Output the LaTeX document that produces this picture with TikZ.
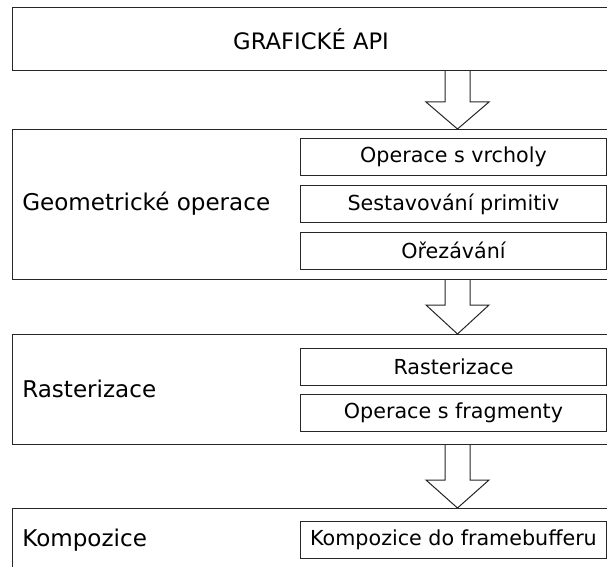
\documentclass[tikz,border=0pt]{standalone}
\usepackage{fontspec}
\setmainfont{DejaVu Sans}
\begin{document}
\begin{tikzpicture}[x=0.75pt,y=-0.75pt,
  outerbox/.style={draw=black!85, line width=0.8pt, rectangle, inner sep=0pt, anchor=north west,
    minimum width=597*0.75pt, font=\fontsize{17}{20}\selectfont},
  innerbox/.style={draw=black!85, line width=0.75pt, rectangle, inner sep=0pt, anchor=north west,
    minimum width=306*0.75pt, minimum height=37*0.75pt, font=\fontsize{15.5}{18}\selectfont},
  bigtext/.style={inner sep=0pt, anchor=west, font=\fontsize{17.3}{20}\selectfont},
  arr/.style={draw=black!85, line width=0.75pt, fill=white, line join=miter}]
\useasboundingbox (0,0) rectangle (607,567);
\clip (0,0) rectangle (607,567);
\fill[white] (0,0) rectangle (607,567);
% shaft and head x positions
\coordinate (xl) at (445,0);
\coordinate (xr) at (470,0);
\coordinate (hl) at (426,0);
\coordinate (hr) at (489,0);
\coordinate (xm) at (457.5,0);
% stages
\node[outerbox, minimum height=63*0.75pt] (api) at (12,7) {GRAFICKÉ API};
\node[outerbox, minimum height=150*0.75pt] (geom) at (12,129) {};
\node[bigtext] (geomlab) at (22,204) {Geometrické operace};
\node[innerbox] (vert) at (300,138) {Operace s vrcholy};
\node[innerbox] (prim) at (300,185) {Sestavování primitiv};
\node[innerbox] (clipb) at (300,231.5) {Ořezávání};
\node[outerbox, minimum height=110*0.75pt] (rast) at (12,334) {};
\node[bigtext] (rastlab) at (22,389) {Rasterizace};
\node[innerbox] (rasti) at (300,348) {Rasterizace};
\node[innerbox] (frag) at (300,394) {Operace s fragmenty};
\node[outerbox, minimum height=80*0.75pt] (komp) at (12,508) {};
\node[bigtext] (komplab) at (22,540) {Kompozice};
\node[innerbox] (fb) at (300,521) {Kompozice do framebufferu};
% block arrows
\newcommand\flowarrow[3]{%
  \draw[arr] (#1.south -| xl) -- (xl |- 0,#3) -- (hl |- 0,#3) -- (#2.north -| xm)
    -- (hr |- 0,#3) -- (xr |- 0,#3) -- (#1.south -| xr);}
\flowarrow{api}{geom}{102}
\flowarrow{geom}{rast}{305}
\flowarrow{rast}{komp}{480}
\end{tikzpicture}
\end{document}
